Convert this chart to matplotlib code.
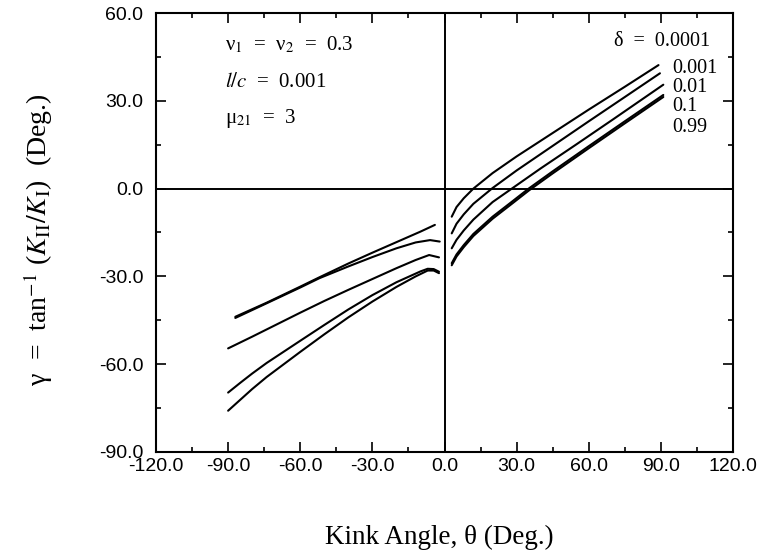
import matplotlib
matplotlib.use("Agg")
import matplotlib.pyplot as plt
from matplotlib.ticker import MultipleLocator, FormatStrFormatter

plt.rcParams['mathtext.fontset'] = 'stix'
plt.rcParams['font.family'] = 'Liberation Serif'

# kink angle theta (deg) and gamma (deg)
# left branch (theta < 0)
th_l_0001 = [-87, -74, -60, -52, -40, -30, -20, -10, -4]
g_l_0001 = [-43.8, -39.0, -33.5, -30.3, -25.6, -21.9, -18.3, -14.7, -12.4]
th_l_001 = [-87, -74, -60, -52, -40, -30, -20, -12, -6, -2]
g_l_001 = [-44.2, -39.2, -33.8, -30.6, -26.6, -23.4, -20.4, -18.4, -17.6, -18.1]
th_l_01 = [-90, -80, -70, -60, -50, -40, -30, -20, -12, -6.4, -2.3]
g_l_01 = [-54.6, -50.6, -46.5, -42.4, -38.4, -34.6, -30.9, -27.2, -24.4, -22.7, -23.5]
th_l_1 = [-90, -85, -80, -74, -60, -50, -40, -30, -20, -10, -7, -4.5, -2.3]
g_l_1 = [-69.7, -66.4, -63.2, -59.6, -52.0, -46.6, -41.3, -36.4, -32.0, -28.3, -27.4, -27.5, -28.4]
th_l_99 = [-90, -85, -80, -74, -60, -50, -40, -30, -20, -12, -7, -4.5, -2.3]
g_l_99 = [-75.9, -72.2, -68.5, -64.4, -55.8, -49.8, -44.0, -38.6, -33.6, -30.0, -28.0, -28.0, -28.9]

# right branch (theta > 0)
th_r_0001 = [3, 5, 8, 12, 20, 30, 45, 60, 75, 89]
g_r_0001 = [-9.6, -6.3, -3.3, 0.0, 5.3, 11.0, 19.0, 27.0, 34.8, 42.2]
th_r_001 = [3, 5, 8, 12, 20, 30, 45, 60, 75, 89.6]
g_r_001 = [-15.3, -12.0, -8.8, -5.2, 0.2, 6.2, 14.6, 23.0, 31.3, 39.4]
th_r_01 = [3, 5, 8, 12, 20, 28, 40, 55, 70, 91]
g_r_01 = [-20.4, -17.5, -14.3, -10.6, -4.6, 0.0, 6.9, 15.2, 23.6, 35.5]
th_r_1 = [3, 5, 8, 12, 20, 28, 35, 45, 60, 75, 91]
g_r_1 = [-25.5, -22.5, -19.3, -15.5, -9.6, -4.5, 0.0, 5.9, 14.5, 23.0, 32.0]
th_r_99 = [3, 5, 8, 12, 20, 28, 35, 45, 60, 75, 91]
g_r_99 = [-26.2, -23.2, -20.0, -16.2, -10.3, -5.2, -0.7, 5.2, 13.8, 22.3, 31.3]

delta_labels = ['0.001', '0.01', '0.1', '0.99']
delta_label_y = [41.1, 34.6, 28.2, 20.9]

fig = plt.figure(figsize=(7.62, 5.51), dpi=100)
ax = fig.add_axes([0.2047, 0.1797, 0.7573, 0.7967])

left = [(th_l_0001, g_l_0001), (th_l_001, g_l_001), (th_l_01, g_l_01),
        (th_l_1, g_l_1), (th_l_99, g_l_99)]
right = [(th_r_0001, g_r_0001), (th_r_001, g_r_001), (th_r_01, g_r_01),
         (th_r_1, g_r_1), (th_r_99, g_r_99)]
for th, g in left + right:
    ax.plot(th, g, color='black', lw=1.5, solid_capstyle='round')

ax.axhline(0, color='black', lw=1.4)
ax.axvline(0, color='black', lw=1.4)

ax.set_xlim(-120, 120)
ax.set_ylim(-90, 60)
ax.xaxis.set_major_locator(MultipleLocator(30))
ax.xaxis.set_minor_locator(MultipleLocator(15))
ax.yaxis.set_major_locator(MultipleLocator(30))
ax.yaxis.set_minor_locator(MultipleLocator(15))
ax.xaxis.set_major_formatter(FormatStrFormatter('%.1f'))
ax.yaxis.set_major_formatter(FormatStrFormatter('%.1f'))
ax.tick_params(which='both', direction='in', top=True, right=True, width=1.2)
ax.tick_params(which='major', length=7, labelsize=14)
ax.tick_params(which='minor', length=3.5)
ax.tick_params(axis='x', which='major', pad=4)
ax.tick_params(axis='y', which='major', pad=9)
for lab in ax.get_xticklabels() + ax.get_yticklabels():
    lab.set_family('Liberation Sans')
for s in ax.spines.values():
    s.set_linewidth(1.5)

ax.text(-91.3, 49.1, 'ν$_1$  =  ν$_2$  =  0.3', fontsize=15, va='center')
ax.text(-91.3, 36.4, '$l/c$  =  0.001', fontsize=15, va='center')
ax.text(-91.3, 24.1, 'μ$_{21}$  =  3', fontsize=15, va='center')
ax.text(110.4, 50.2, 'δ  =  0.0001', fontsize=14.5, va='center', ha='right')
for lab, yy in zip(delta_labels, delta_label_y):
    ax.text(94.8, yy, lab, fontsize=14.5, va='center', ha='left')

ax.set_xlabel('Kink Angle, θ (Deg.)', fontsize=19.5)
ax.xaxis.set_label_coords(0.4905, -0.166)
ax.set_ylabel(r'γ  =  tan$^{-1}$ ($K_{\mathrm{II}}/K_{\mathrm{I}}$)  (Deg.)', fontsize=20)
ax.yaxis.set_label_coords(-0.175, 0.483)

fig.savefig('out.png', dpi=100)
